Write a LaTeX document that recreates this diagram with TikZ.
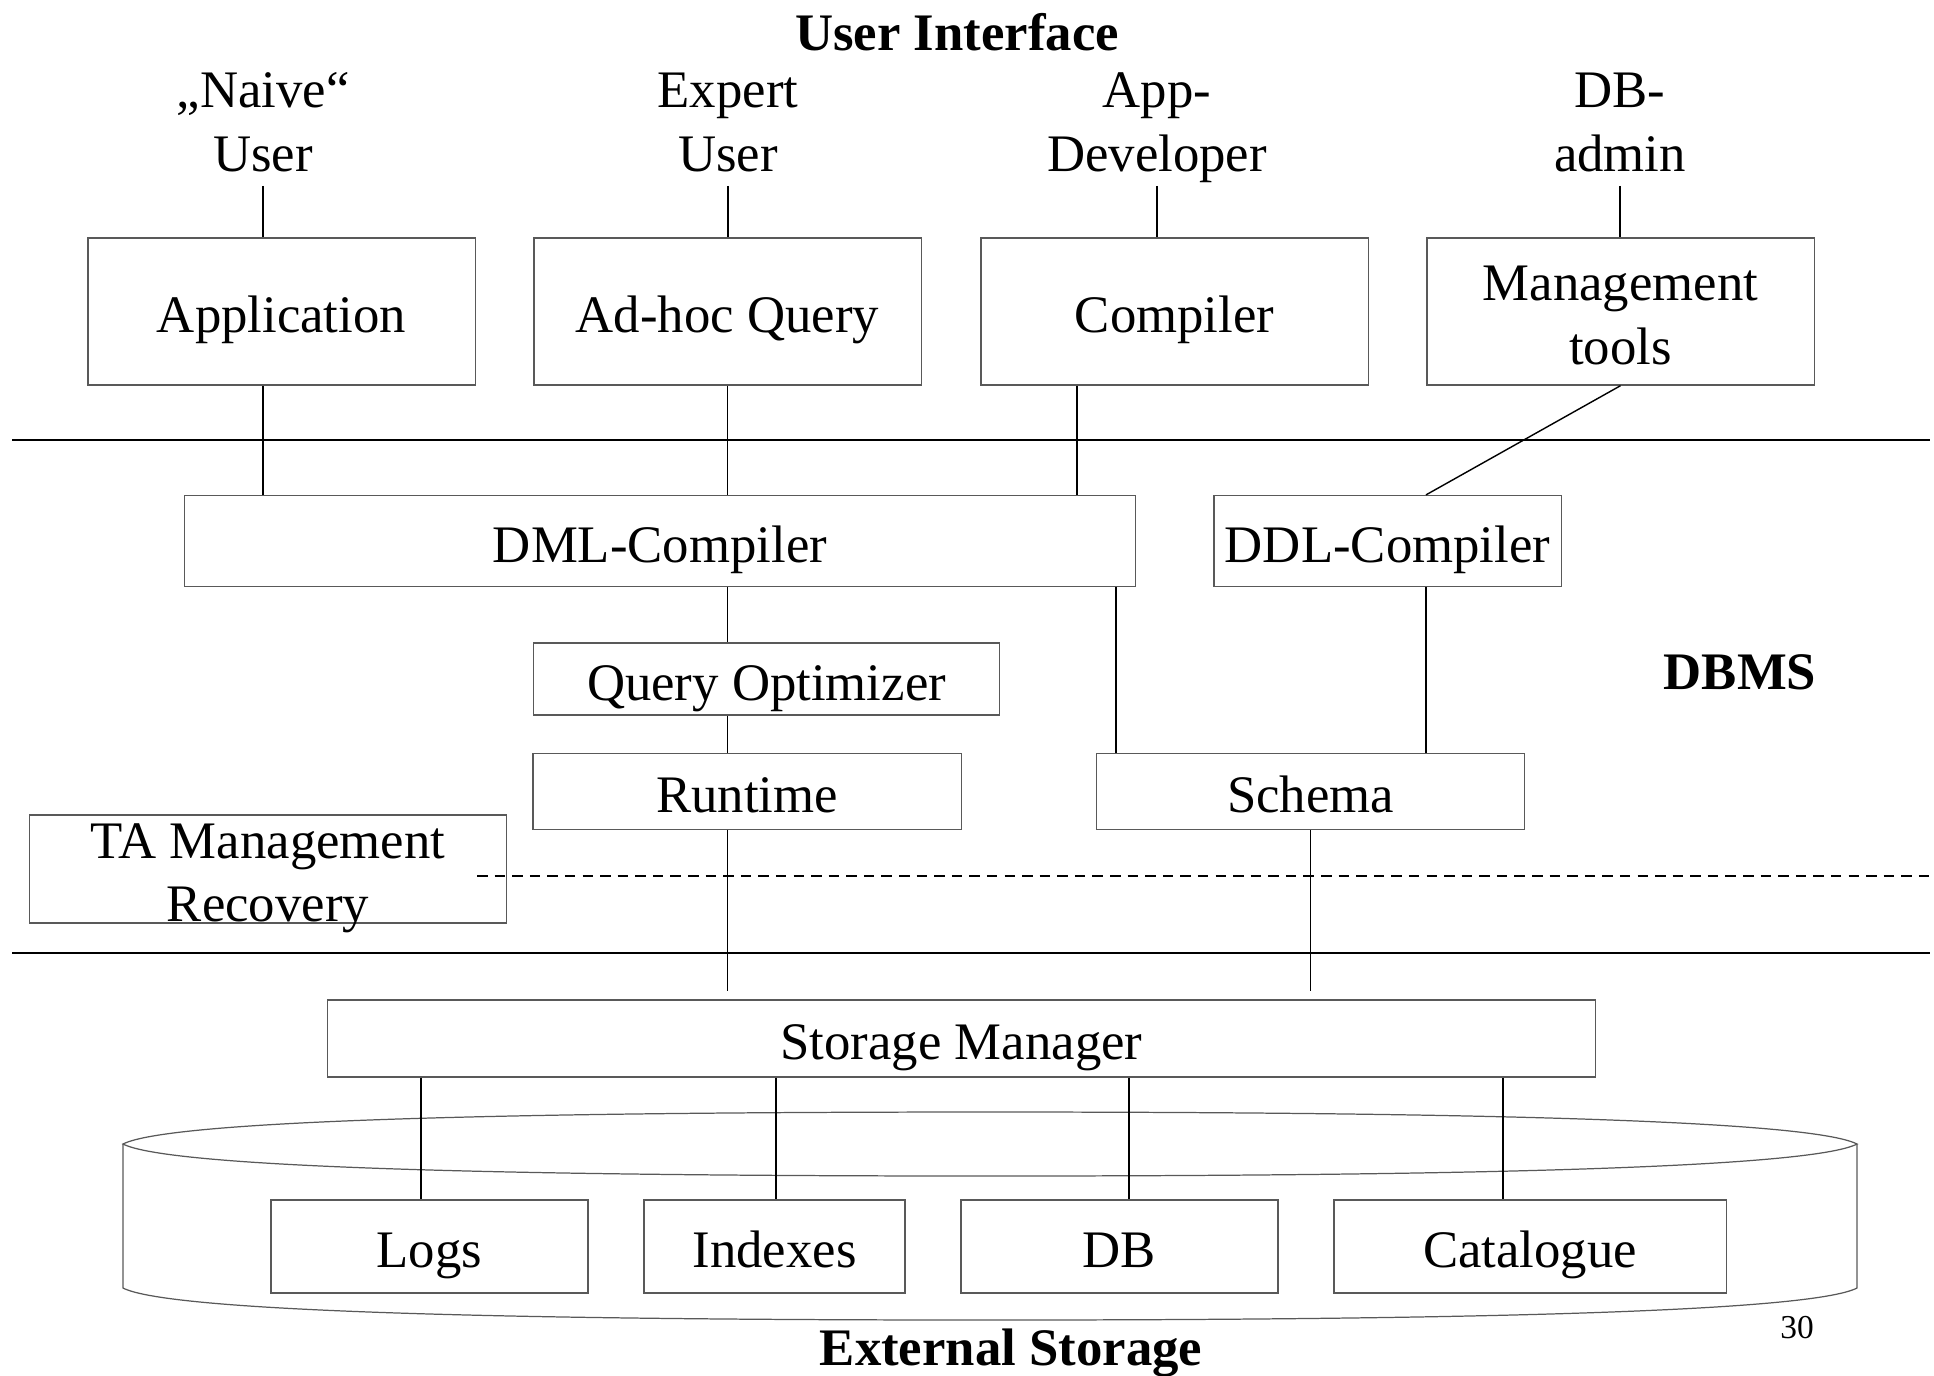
\documentclass[tikz,border=0pt]{standalone}
\usepackage{fontspec}
\setmainfont{Liberation Serif}
\usetikzlibrary{calc}

\begin{document}
\begin{tikzpicture}[x=0.01cm,y=-0.01cm,
    every node/.style={font=\fontsize{15}{18}\selectfont},
    box/.style={draw=black!65,line width=0.35pt,inner sep=0pt,align=center,text height=13pt,text depth=1pt},
    twobox/.style={box,text height=30pt,text depth=0pt},
    who/.style={align=center,inner sep=4pt,text height=28.5pt,text depth=0pt},
    title/.style={font=\fontsize{15}{18}\selectfont\bfseries},
    link/.style={line width=0.4pt},
    sep/.style={line width=0.75pt},
    shell/.style={draw=black!65,line width=0.35pt}]
  \useasboundingbox (0,0) rectangle (1934,1375);
  %\draw[very thin,lightgray] (0,0) grid[step=100] (1934,1375);

  % external storage drum
  \draw[shell] (123,1144) .. controls (170,1120) and (520,1112) .. (990,1112)
    .. controls (1460,1112) and (1810,1120) .. (1857,1144)
    .. controls (1810,1168) and (1460,1176) .. (990,1176)
    .. controls (520,1176) and (170,1168) .. cycle;
  \draw[shell] (123,1144) -- (123,1288) .. controls (170,1312) and (520,1320) .. (990,1320)
    .. controls (1460,1320) and (1810,1312) .. (1857,1288) -- (1857,1144);

  % layer borders
  \draw[sep] (12,440) -- (1930,440);
  \draw[sep] (12,953) -- (1930,953);
  \draw[line width=0.45pt,dash pattern=on 3pt off 2pt] (477,876) -- (1930,876);

  \node[title] (ui) at (957,32) {User Interface};
  \node[title] (dbms) at (1740,672) {DBMS};
  \node[title] (ext) at (1011,1353) {External Storage};
  \node[font=\fontsize{9.5}{11}\selectfont] (page) at (1797,1328) {30};

  \node[who] (naive) at (263,121) {„Naive“\\User};
  \node[who] (expert) at (728,121) {Expert\\User};
  \node[who] (dev) at (1157,121) {App-\\Developer};
  \node[who] (admin) at (1620,121) {DB-\\admin};

  \node[box,minimum width=3.87cm,minimum height=1.47cm] (app) at (281.5,311.5) {Application};
  \node[box,minimum width=3.87cm,minimum height=1.47cm] (adhoc) at (727.5,311.5) {Ad-hoc Query};
  \node[box,minimum width=3.87cm,minimum height=1.47cm] (comp) at (1174.5,311.5) {Compiler};
  \node[twobox,minimum width=3.87cm,minimum height=1.47cm] (mgmt) at (1620.5,311.5) {Management\\tools};

  \node[box,minimum width=9.5cm,minimum height=0.91cm] (dml) at (660,541) {DML-Compiler};
  \node[box,minimum width=3.47cm,minimum height=0.91cm] (ddl) at (1387.5,541) {DDL-Compiler};
  \node[box,minimum width=4.65cm,minimum height=0.72cm] (qo) at (766.5,679) {Query Optimizer};
  \node[box,minimum width=4.28cm,minimum height=0.76cm] (run) at (747,791.5) {Runtime};
  \node[box,minimum width=4.28cm,minimum height=0.76cm] (schema) at (1310.5,791.5) {Schema};
  \node[twobox,minimum width=4.76cm,minimum height=1.08cm] (ta) at (268,869) {TA Management\\Recovery};

  \node[box,minimum width=12.67cm,minimum height=0.77cm] (store) at (961.5,1038.5) {Storage Manager};
  \node[box,minimum width=3.17cm,minimum height=0.93cm] (logs) at (429.5,1246.5) {Logs};
  \node[box,minimum width=2.61cm,minimum height=0.93cm] (idx) at (774.5,1246.5) {Indexes};
  \node[box,minimum width=3.17cm,minimum height=0.93cm] (db) at (1119.5,1246.5) {DB};
  \node[box,minimum width=3.92cm,minimum height=0.93cm] (cat) at (1530,1246.5) {Catalogue};

  % users to tools
  \draw[link] (naive) -- (naive |- app.north);
  \draw[link] (expert) -- (expert |- adhoc.north);
  \draw[link] (dev) -- (dev |- comp.north);
  \draw[link] (admin) -- (admin |- mgmt.north);

  % tools to compilers
  \draw[link] (app.south -| naive) -- (dml.north -| naive);
  \draw[link] (adhoc) -- (adhoc |- dml.north);
  \draw[link] (comp.south -| 1077,0) -- (dml.north -| 1077,0);
  \draw[link] (mgmt.south) -- (ddl.north -| 1426,0);

  \draw[link] (dml.south -| adhoc) -- (qo.north -| adhoc);
  \draw[link] (qo.south -| adhoc) -- (run.north -| adhoc);
  \draw[link] (dml.south -| 1116,0) -- (schema.north -| 1116,0);
  \draw[link] (ddl.south -| 1426,0) -- (schema.north -| 1426,0);
  \draw[link,shorten >=2.3pt] (run.south -| adhoc) -- (store.north -| adhoc);
  \draw[link,shorten >=2.3pt] (schema) -- (schema |- store.north);

  \foreach \x/\n in {421/logs,776/idx,1129/db,1503/cat}
    \draw[link] (store.south -| \x,0) -- (\n.north -| \x,0);
\end{tikzpicture}
\end{document}
